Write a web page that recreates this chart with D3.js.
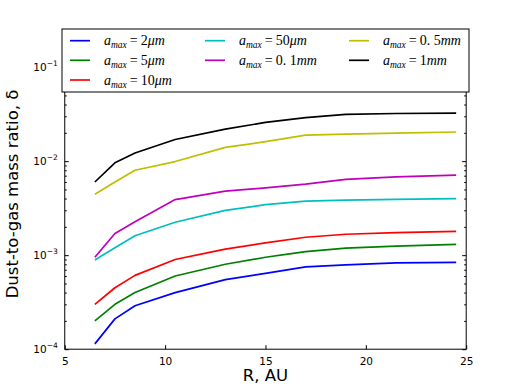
<!DOCTYPE html>
<html>
<head>
<meta charset="utf-8">
<script src="https://cdn.jsdelivr.net/npm/d3@7"></script>
<style>
  body { margin: 0; background: #fff; }
  svg { display: block; }
</style>
</head>
<body>
<svg id="chart" width="518" height="388"></svg>
<script>
// radii of the sampled points, AU
const radii = [6.5, 7.5, 8.5, 10.5, 13, 15, 17, 19, 21.5, 24.5]

const blue = [0.000114, 0.00021, 0.00029, 0.0004, 0.00055, 0.00064, 0.00075, 0.00079, 0.00083, 0.00084]
const green = [0.0002, 0.0003, 0.0004, 0.0006, 0.0008, 0.00095, 0.00109, 0.00119, 0.00125, 0.0013]
const red = [0.0003, 0.00045, 0.00061, 0.0009, 0.00116, 0.00135, 0.00155, 0.00167, 0.00174, 0.00179]
const cyan = [0.00089, 0.0012, 0.00161, 0.00224, 0.003, 0.00344, 0.00375, 0.00385, 0.00393, 0.004]
const magenta = [0.00095, 0.0017, 0.00227, 0.0039, 0.0048, 0.0052, 0.0057, 0.0064, 0.0068, 0.0071]
const yellow = [0.00445, 0.006, 0.008, 0.0099, 0.014, 0.0161, 0.0189, 0.0194, 0.0199, 0.0204]
const black = [0.006, 0.0096, 0.0122, 0.017, 0.0219, 0.0258, 0.029, 0.0314, 0.0321, 0.0324]

const sizeNums = ["2", "5", "10", "50", "0. 1", "0. 5", "1"]
const sizeUnits = ["μm", "μm", "μm", "μm", "mm", "mm", "mm"]
const colors = ["#0000ff", "#008000", "#ff0000", "#00bfbf", "#bf00bf", "#bfbf00", "#000000"]

const xTicks = [5, 10, 15, 20, 25]
const yMajor = [1e-4, 1e-3, 1e-2, 1e-1]
const yExp = ["−4", "−3", "−2", "−1"]

const seriesList = [blue, green, red, cyan, magenta, yellow, black]

const svg = d3.select("#chart")
const margin = { top: 38.8, right: 51.8, bottom: 38.8, left: 64.75 }
const W = 518, H = 388
const width = W - margin.left - margin.right
const height = H - margin.top - margin.bottom

const g = svg.append("g").attr("transform", `translate(${margin.left},${margin.top})`)

const x = d3.scaleLinear().domain([5, 25]).range([0, width])
const y = d3.scaleLog().domain([1e-4, 0.2]).range([height, 0])

// clip lines to plot area
svg.append("defs").append("clipPath").attr("id", "clip")
  .append("rect").attr("width", width).attr("height", height)

const line = d3.line().x((d) => x(d[0])).y((d) => y(d[1]))

seriesList.forEach((vals, i) => {
  g.append("path")
    .datum(radii.map((r, j) => [r, vals[j]]))
    .attr("clip-path", "url(#clip)")
    .attr("fill", "none")
    .attr("stroke", colors[i])
    .attr("stroke-width", 1.7)
    .attr("stroke-linejoin", "round")
    .attr("d", line)
})

// minor ticks for log axis
const yMinor = []
yMajor.forEach((m) => {
  for (let k = 2; k <= 9; k++) {
    const v = m * k
    if (v <= 0.2) yMinor.push(v)
  }
})

const tickStyle = (sel) => sel.select(".domain").remove()

// bottom + top x axes (ticks inside)
g.append("g").attr("transform", `translate(0,${height})`)
  .call(d3.axisBottom(x).tickValues(xTicks).tickSizeInner(-4).tickSizeOuter(0).tickPadding(8).tickFormat(d3.format("d")))
  .call(tickStyle)
  .selectAll("text")
  .style("font-family", "DejaVu Sans").style("font-size", "10.5px").attr("fill", "#000")

g.append("g")
  .call(d3.axisTop(x).tickValues(xTicks).tickSizeInner(-4).tickSizeOuter(0).tickFormat(""))
  .call(tickStyle)

// left y axis
g.append("g")
  .call(d3.axisLeft(y).tickValues(yMajor).tickSizeInner(-4).tickSizeOuter(0).tickFormat(""))
  .call(tickStyle)
g.append("g")
  .call(d3.axisLeft(y).tickValues(yMinor).tickSizeInner(-2).tickSizeOuter(0).tickFormat(""))
  .call(tickStyle)
g.append("g").attr("transform", `translate(${width},0)`)
  .call(d3.axisRight(y).tickValues(yMajor).tickSizeInner(-4).tickSizeOuter(0).tickFormat(""))
  .call(tickStyle)
g.append("g").attr("transform", `translate(${width},0)`)
  .call(d3.axisRight(y).tickValues(yMinor).tickSizeInner(-2).tickSizeOuter(0).tickFormat(""))
  .call(tickStyle)

// y tick labels as 10^n
yMajor.forEach((v, i) => {
  const t = g.append("text")
    .attr("x", -7)
    .attr("y", y(v) + 4)
    .attr("text-anchor", "end")
    .style("font-family", "DejaVu Sans")
    .style("font-size", "10.5px")
  t.append("tspan").text("10")
  t.append("tspan").attr("dy", -5).style("font-size", "7.5px").text(yExp[i])
})

// frame
g.append("rect")
  .attr("width", width).attr("height", height)
  .attr("fill", "none").attr("stroke", "#000").attr("stroke-width", 1)

// axis labels
svg.append("text")
  .attr("x", margin.left + width / 2)
  .attr("y", 381)
  .attr("text-anchor", "middle")
  .style("font-family", "DejaVu Sans").style("font-size", "16.5px")
  .text("R, AU")

svg.append("text")
  .attr("transform", `translate(18,${margin.top + height / 2}) rotate(-90)`)
  .attr("text-anchor", "middle")
  .style("font-family", "DejaVu Sans").style("font-size", "16.5px")
  .text("Dust-to-gas mass ratio, δ")

// legend
const legend = svg.append("g")
legend.append("rect")
  .attr("x", 62).attr("y", 29).attr("width", 407).attr("height", 63)
  .attr("fill", "#fff").attr("stroke", "#000").attr("stroke-width", 1)

const colX = [70, 205, 349]
const rowY = [40.7, 60.3, 80]
sizeNums.forEach((num, i) => {
  const col = i < 3 ? 0 : i < 5 ? 1 : 2
  const row = i < 3 ? i : i < 5 ? i - 3 : i - 5
  const lx = colX[col], ly = rowY[row]
  legend.append("line")
    .attr("x1", lx).attr("x2", lx + 20).attr("y1", ly).attr("y2", ly)
    .attr("stroke", colors[i]).attr("stroke-width", 1.7)
  const t = legend.append("text")
    .attr("x", lx + 34).attr("y", ly + 4.5)
    .style("font-family", "Liberation Serif").style("font-size", "14px")
  t.append("tspan").style("font-style", "italic").text("a")
  t.append("tspan").attr("dy", 3).style("font-style", "italic").style("font-size", "9.5px").text("max")
  t.append("tspan").attr("dy", -3).attr("dx", 3).text("=")
  t.append("tspan").attr("dx", 3).text(num)
  t.append("tspan").style("font-style", "italic").text(sizeUnits[i])
})
</script>
</body>
</html>
